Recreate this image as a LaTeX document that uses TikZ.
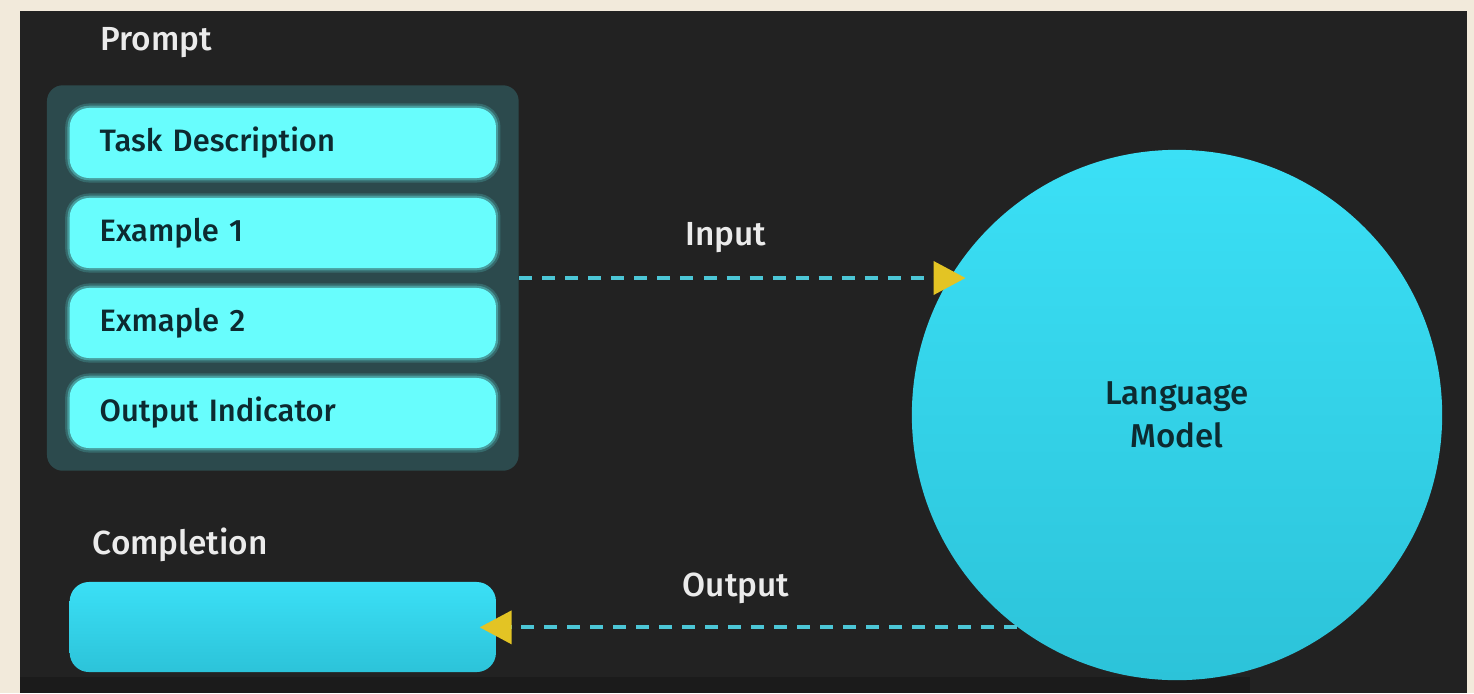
\documentclass[tikz,border=0pt]{standalone}
\usepackage{fontspec}
\setmainfont{Fira Sans}[UprightFont={* Medium}]
\usetikzlibrary{arrows.meta,positioning,fit,backgrounds,calc}
\definecolor{paper}{HTML}{F2EADB}
\definecolor{board}{HTML}{222222}
\definecolor{boardlo}{HTML}{1B1B1B}
\definecolor{trayc}{HTML}{2C4A4D}
\definecolor{slotc}{HTML}{68FDFD}
\definecolor{ink}{HTML}{0D2A30}
\definecolor{ballhi}{HTML}{3BE0F6}
\definecolor{balllo}{HTML}{2CC3D9}
\definecolor{dashc}{HTML}{4CC6D6}
\definecolor{tipc}{HTML}{E3C424}
\tikzset{
  lbl/.style   = {text=white!92!black, font=\fontsize{9.5}{11}\selectfont, inner sep=0pt},
  slot/.style  = {fill=slotc, rounded corners=5.5pt, minimum height=0.70cm,
                  text width=3.66cm, inner xsep=0.3cm, align=left, text=ink,
                  font=\fontsize{8.8}{10}\selectfont,
                  preaction={draw=slotc, line width=0.09cm, opacity=0.18},
                  preaction={draw=slotc, line width=0.045cm, opacity=0.35}},
  tray/.style  = {fill=trayc, rounded corners=4.5pt, inner sep=0.22cm},
  outbox/.style= {rounded corners=5.5pt, top color=ballhi, bottom color=balllo,
                  minimum width=4.26cm, minimum height=0.90cm},
  lmodel/.style= {circle, top color=ballhi, bottom color=balllo, minimum size=5.3cm,
                  align=center, text=ink, font=\fontsize{9.4}{12.4}\selectfont},
  flow/.style  = {-{Triangle[length=0.32cm, width=0.33cm, color=tipc]}, dashc,
                  line width=0.04cm, dash pattern=on 0.13cm off 0.10cm}
}

\begin{document}
\begin{tikzpicture}[x=0.01cm,y=0.01cm]
  % backdrop
  \begin{scope}[on background layer]
    \fill[paper] (0,0) rectangle (1474,693);
    \fill[board] (20,0) rectangle (1467,682);
    \fill[boardlo] (20,0) rectangle (1250,16);
  \end{scope}

  % prompt stack
  \node[lbl, anchor=west] (plabel) at (100,650) {Prompt};
  \node[slot, anchor=west] (task) at (69,550) {Task Description};
  \node[slot, anchor=west] (ex1)  at (69,460) {Example 1};
  \node[slot, anchor=west] (ex2)  at (69,370) {Exmaple 2};
  \node[slot, anchor=west] (ind)  at (69,280) {Output Indicator};
  \begin{scope}[on background layer]
    \node[tray, fit=(task)(ind)] (prompt) {};
  \end{scope}

  % completion
  \node[lbl, anchor=west] (clabel) at (92,148) {Completion};
  \node[outbox, anchor=west] (comp) at (69,66) {};

  % model
  \node[lmodel] (lm) at (1177,278) {Language\\Model};

  \draw[flow, shorten >=-0.14cm] (prompt.east) -- (prompt.east -| lm.148.6);
  \node[lbl] (inlbl) at (726,455) {Input};
  \draw[flow, shorten >=-0.17cm] (lm.233.5) -- (lm.233.5 -| comp.east);
  \node[lbl] (outlbl) at (736,105) {Output};
\end{tikzpicture}
\end{document}
